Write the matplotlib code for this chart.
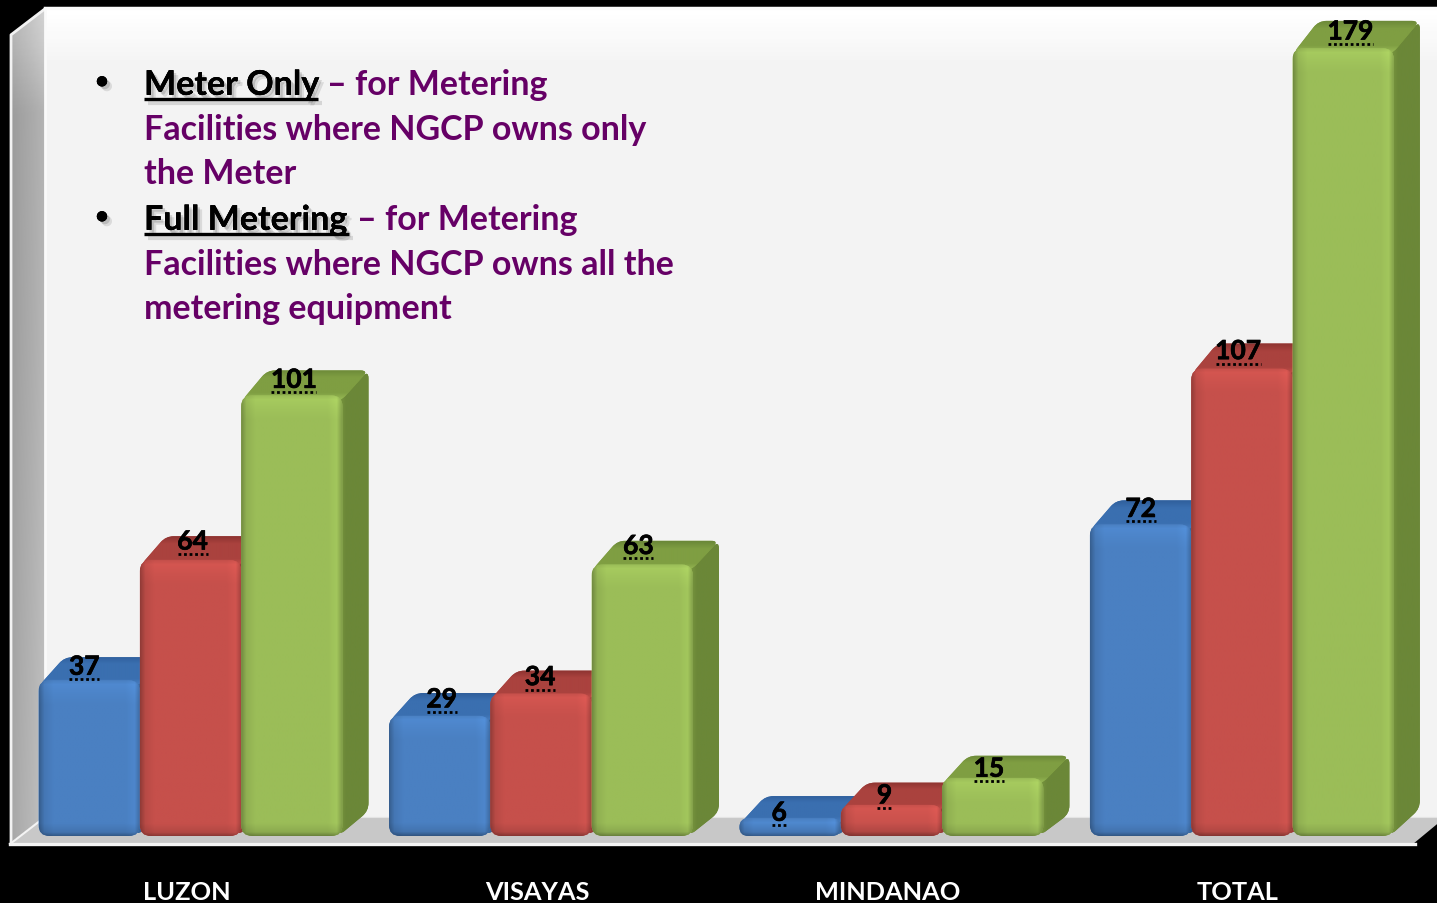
# -*- coding: utf-8 -*-
"""Metering facilities per grid: 3D style bars on a grey box, black background."""
import matplotlib
matplotlib.use("Agg")
import matplotlib.pyplot as plt
import matplotlib.patheffects as pe
import numpy as np
from matplotlib.colors import to_rgb
from matplotlib.patches import PathPatch, Polygon
from matplotlib.path import Path

# ---------------------------------------------------------------- data
GROUPS = ["LUZON", "VISAYAS", "MINDANAO", "TOTAL"]
METER_ONLY = [37, 29, 6, 72]
FULL_METERING = [64, 34, 9, 107]
ALL_FACILITIES = [101, 63, 15, 179]

NOTE_1 = ["Facilities where NGCP owns only", "the Meter"]
NOTE_2 = ["Facilities where NGCP owns all the", "metering equipment"]

# ---------------------------------------------------------------- style
W, H = 1437, 903
PX_GROUP = 350.4   # pixels between groups
PX_UNIT = 4.45     # pixels per facility
ZERO_PX = 845
FLOOR_PX = 836
GROUP0_PX = 186.5
BAR_W = 101.3 / PX_GROUP
BAR_SHIFT = 4 / PX_GROUP
DEPTH_X = 26

FACES = {
    "blue": {"front": "#4a80c2", "top": "#3a6fb0", "back": "#305f9c", "side": "#33608f"},
    "red": {"front": "#c6504b", "top": "#aa423e", "back": "#8e3431", "side": "#8f3633"},
    "green": {"front": "#9bbd58", "top": "#7f9e42", "back": "#6b8838", "side": "#6b8738"},
}
PURPLE = "#660066"
FONT = "Lato"
# label offsets from the bar's top centre, pixels (x right, y up)
LABEL_DX = [[-5, 2, 2], [2, -1, -4], [-11, -7, -4], [0, -4, 7]]
LABEL_DY = [[14, 19, 16], [17, 17, 19], [6, 10, 10], [16, 18, 17]]


def rounded(verts, radius):
    """Closed path through verts with the corners cut by quadratic curves."""
    verts = np.asarray(verts, float)
    n = len(verts)
    pts, codes = [], []
    for i in range(n):
        prev_v, cur, next_v = verts[i - 1], verts[i], verts[(i + 1) % n]
        to_prev = prev_v - cur
        to_next = next_v - cur
        r = min(radius, np.hypot(*to_prev) / 2, np.hypot(*to_next) / 2)
        a = cur + to_prev / np.hypot(*to_prev) * r
        b = cur + to_next / np.hypot(*to_next) * r
        pts.append(a)
        codes.append(Path.MOVETO if i == 0 else Path.LINETO)
        pts.extend([cur, b])
        codes.extend([Path.CURVE3, Path.CURVE3])
    pts.append(pts[0])
    codes.append(Path.CLOSEPOLY)
    return np.array(pts), codes


def to_data_path(px_verts, radius):
    pts, codes = rounded(px_verts, radius)
    pts = pts / np.array([PX_GROUP, PX_UNIT])
    return Path(pts, codes)


def front_shading(color, w, h):
    xs = np.arange(int(w))
    ys = np.arange(max(int(h), 2))
    sx = np.interp(xs, [0, 5, 14, w - 16, w - 7, w - 1], [0.74, 0.93, 1, 1, 1.05, 0.8])
    top = np.interp(ys, [0, 4, 14, 24], [1.0, 1.07, 1.03, 1.0])
    bottom = np.interp(h - ys, [0, 5, 14], [0.62, 0.9, 1.0])
    shade = np.outer(top * bottom, sx)[..., None]
    return np.clip(np.array(to_rgb(color)) * shade, 0, 1)


def blend(stops, colors, n, horizontal=False):
    """Gradient image of n cells through colors at the relative stops."""
    t = np.linspace(0, 1, n)
    rgb = np.array([to_rgb(c) for c in colors])
    line = np.stack([np.interp(t, stops, rgb[:, k]) for k in range(3)], axis=-1)
    return line[None, :, :] if horizontal else line[:, None, :]


def paint(ax, patch, image, x0, x1, y0, y1):
    """Put a gradient image on a patch, px coordinates above the zero line."""
    ax.add_patch(patch)
    img = ax.imshow(image, extent=(x0 / PX_GROUP, x1 / PX_GROUP, y0 / PX_UNIT, y1 / PX_UNIT),
                    aspect="auto", origin="upper", zorder=2, interpolation="bilinear")
    img.set_clip_path(patch)


def draw_bar(ax, left, value, faces):
    x0 = left * PX_GROUP
    x1 = x0 + BAR_W * PX_GROUP
    y_top = value * PX_UNIT
    y_floor = ZERO_PX - FLOOR_PX
    dy = 22 + 0.03 * value

    side = [(x1 - 6, y_top - 6), (x1 + DEPTH_X, y_top + dy),
            (x1 + DEPTH_X, y_floor + dy), (x1 - 4, y_floor)]
    side_patch = PathPatch(to_data_path(side, 8), fc=faces["side"], ec="none", zorder=2)
    side_img = blend([0, 0.3, 0.8, 1], [faces["top"], faces["side"], faces["side"], faces["back"]],
                     40, horizontal=True)
    paint(ax, side_patch, side_img, x1 - 6, x1 + DEPTH_X, y_floor, y_top + dy)

    top = [(x0, y_top - 6), (x0 + DEPTH_X, y_top + dy), (x1 + DEPTH_X, y_top + dy),
           (x1 - 2, y_top - 6)]
    top_patch = PathPatch(to_data_path(top, 8), fc=faces["top"], ec="none", zorder=2)
    top_img = blend([0, 0.25, 0.75, 1], [faces["back"], faces["top"], faces["top"], faces["front"]],
                    30)
    paint(ax, top_patch, top_img, x0, x1 + DEPTH_X, y_top - 6, y_top + dy)

    front = [(x0, y_floor), (x0, y_top), (x1, y_top), (x1, y_floor)]
    front_patch = PathPatch(to_data_path(front, 11), fc=faces["front"], ec="none", zorder=2)
    paint(ax, front_patch, front_shading(faces["front"], x1 - x0, y_top - y_floor),
          x0, x1, y_floor, y_top)


def draw_box(bg):
    # back wall, a little brighter towards the top and the edges
    wall = np.full((200, 200), 0.957)
    wall[:14, :] = np.linspace(1.0, 0.957, 14)[:, None]
    bg.imshow(wall, cmap="gray", vmin=0, vmax=1, extent=(45, W, 817, 8), aspect="auto",
              zorder=1)
    # left wall
    across = np.interp(np.arange(35), [0, 8, 22, 34], [0.96, 1.0, 1.06, 1.12])
    down = np.interp(np.linspace(8, 845, 120), [8, 40, 110, 350, 845], [0.74, 0.72, 0.63, 0.64, 0.68])
    im = bg.imshow(np.outer(down, across), cmap="gray", vmin=0, vmax=1, extent=(10, 45, 845, 8),
                   aspect="auto", zorder=2)
    clip = Polygon([(10, 35), (45, 8), (45, 817), (10, 843)], closed=True, fc="none",
                   ec="none", transform=bg.transData)
    bg.add_patch(clip)
    im.set_clip_path(clip)
    # floor
    bg.add_patch(Polygon([(10, 843), (45, 817), (W, 817), (W, 824), (1414, 843)], closed=True,
                         fc="#c8c8c8", ec="none", zorder=2))
    # white edges
    bg.plot([10, 1415], [844, 844], color="#f4f4f4", lw=2.4, zorder=3)
    bg.plot([11, 11, 45], [844, 35, 9], color="#f2f2f2", lw=2, zorder=3)
    bg.plot([45, W], [8.5, 8.5], color="#fbfbfb", lw=2.5, zorder=3)
    bg.plot([10, 45], [844, 817], color="#f4f4f4", lw=1.5, zorder=3)
    bg.plot([45, 45], [9, 817], color="#fafafa", lw=2, zorder=3)
    bg.plot([45, W], [817, 817], color="#e4e4e4", lw=0.8, zorder=3)
    bg.set_xlim(0, W)
    bg.set_ylim(H, 0)


LINE_SHADOW = [pe.SimpleLineShadow(offset=(3, -3), shadow_color="k", alpha=0.12, linewidth=3),
               pe.Normal()]
TEXT_SHADOW = [pe.withSimplePatchShadow(offset=(3.5, -3.5), shadow_rgbFace="k", alpha=0.1),
               pe.withSimplePatchShadow(offset=(2, -2), shadow_rgbFace="k", alpha=0.14),
               pe.Normal()]


def draw_notes(over):
    kw = dict(family=FONT, fontweight="bold", fontsize=24.5, va="baseline")
    for sym_y, head, head_end, tail, tail_x, base, lines in (
            (83, "Meter Only", 318, "– for Metering", 327, 95, NOTE_1),
            (218, "Full Metering", 349, "– for Metering", 357, 230, NOTE_2)):
        over.text(102, sym_y - 2, "•", ha="center", va="center", fontsize=17, color="k",
                  family=FONT, fontweight="bold", path_effects=TEXT_SHADOW)
        over.text(144, base, head, color="k", path_effects=TEXT_SHADOW, **kw)
        over.plot([143.5, head_end], [base + 4, base + 4], color="k", lw=2.4,
                  solid_capstyle="butt", path_effects=LINE_SHADOW)
        over.text(tail_x, base, tail, color=PURPLE, **kw)
        for k, line in enumerate(lines, start=1):
            over.text(144, base + k * 44.7, line, color=PURPLE, **kw)


def draw_value_labels(ax, over):
    series = (METER_ONLY, FULL_METERING, ALL_FACILITIES)
    for g in range(len(GROUPS)):
        for s, values in enumerate(series):
            v = values[g]
            xc = g + BAR_SHIFT + (s - 1) * BAR_W
            px, py = ax.transData.transform((xc, v))
            px += LABEL_DX[g][s]
            py = H - py - LABEL_DY[g][s]
            over.text(px, py + 8.5, str(v), ha="center", va="baseline", color="k",
                      family=FONT, fontweight="bold", fontsize=19,
                      path_effects=[pe.withStroke(linewidth=0.5, foreground="k")])
            half = 7.5 * len(str(v))
            over.plot([px - half, px + half], [py + 13, py + 13], color="k", lw=2,
                      linestyle=(0, (1, 1)))


def main():
    fig = plt.figure(figsize=((W + 0.2) / 100, (H + 0.2) / 100), dpi=100, facecolor="k")

    bg = fig.add_axes([0, 0, 1, 1], zorder=0)
    bg.axis("off")
    draw_box(bg)

    # data axes: x = group index, y = number of facilities
    ax = fig.add_axes([0, (H - ZERO_PX) / H, 1, ZERO_PX / H], zorder=1)
    ax.patch.set_visible(False)
    for g in range(len(GROUPS)):
        for s, (values, key) in enumerate(zip((METER_ONLY, FULL_METERING, ALL_FACILITIES),
                                              ("blue", "red", "green"))):
            left = g + BAR_SHIFT + (s - 1.5) * BAR_W
            draw_bar(ax, left, values[g], FACES[key])
    ax.set_xlim(-GROUP0_PX / PX_GROUP, (W - GROUP0_PX) / PX_GROUP)
    ax.set_ylim(0, ZERO_PX / PX_UNIT)
    ax.set_xticks(range(len(GROUPS)))
    ax.set_xticklabels(GROUPS, family=FONT, fontweight="bold", fontsize=18.3, color="white")
    ax.tick_params(axis="x", length=0, pad=26)
    ax.yaxis.set_visible(False)
    for spine in ax.spines.values():
        spine.set_visible(False)

    over = fig.add_axes([0, 0, 1, 1], zorder=2)
    over.axis("off")
    over.patch.set_visible(False)
    over.set_xlim(0, W)
    over.set_ylim(H, 0)
    draw_notes(over)
    draw_value_labels(ax, over)

    fig.savefig("out.png", dpi=100, facecolor="k")


if __name__ == "__main__":
    main()
